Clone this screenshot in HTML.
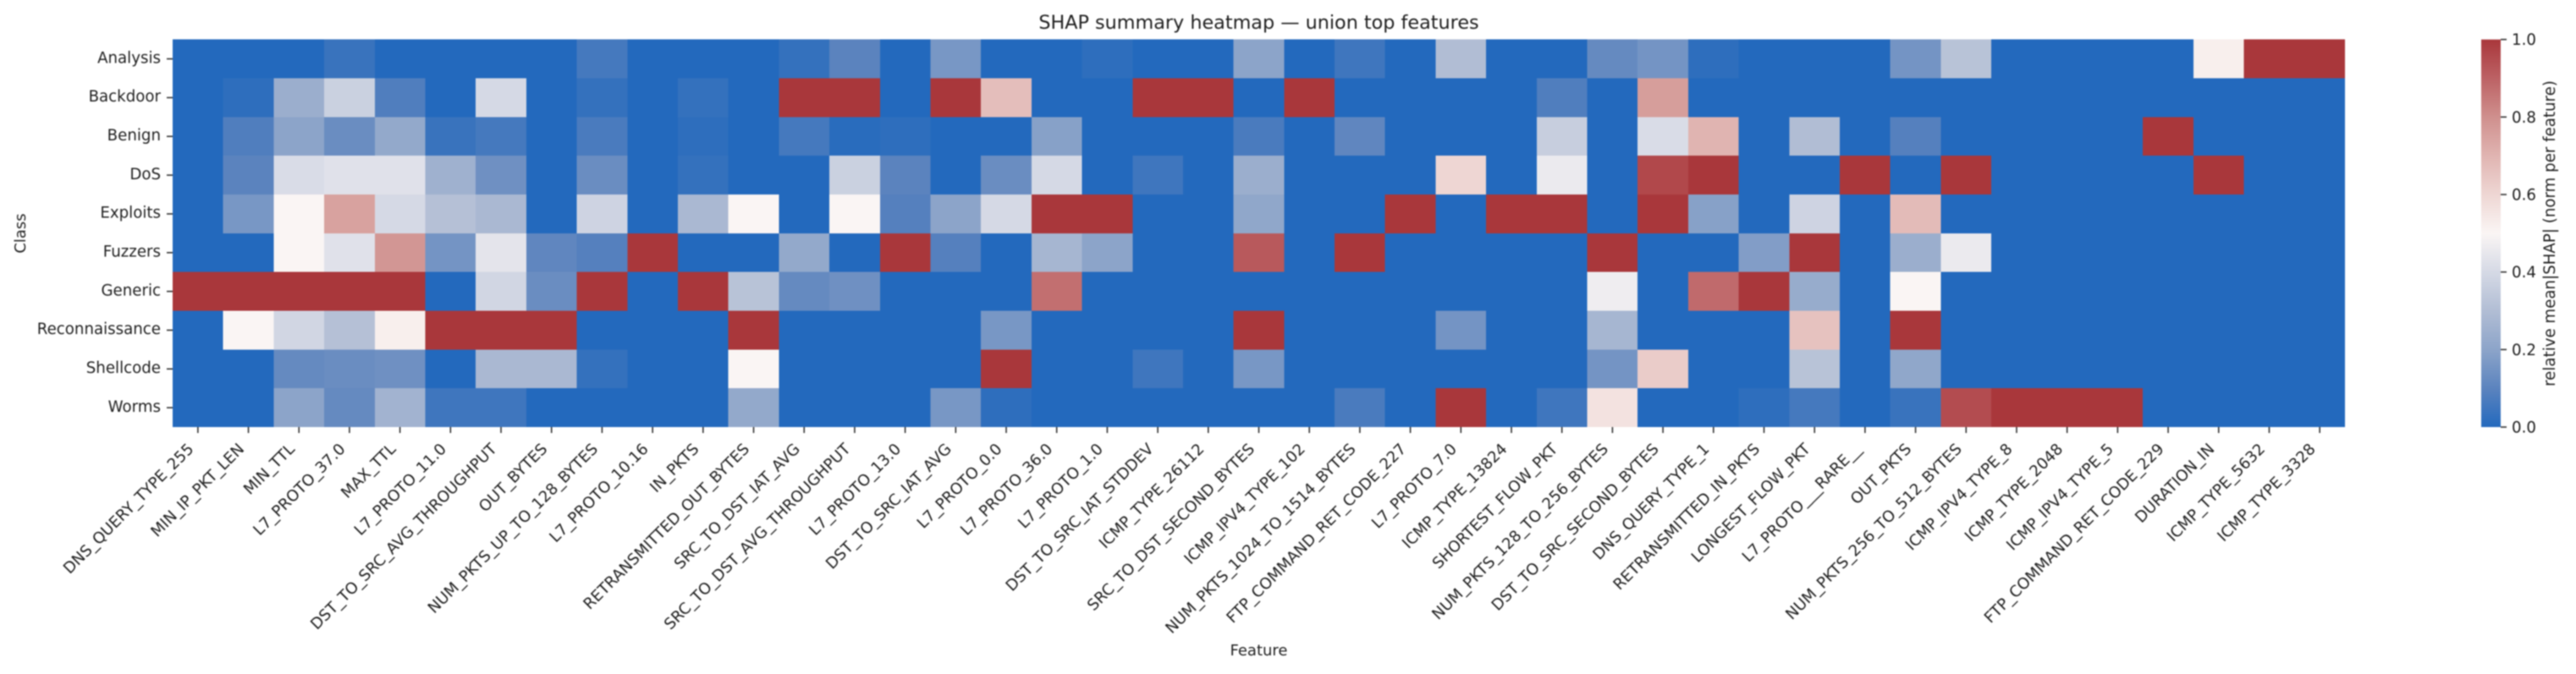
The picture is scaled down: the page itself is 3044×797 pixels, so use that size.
<!DOCTYPE html>
<html lang="en">
<head>
<meta charset="utf-8">
<title>SHAP summary heatmap</title>
<style>
html,body{margin:0;padding:0;background:#fff;width:3044px;height:797px;overflow:hidden}
svg{display:block;filter:blur(0.9px)}
text{font-family:"DejaVu Sans","Liberation Sans",sans-serif;fill:#1f1f1f}
</style>
</head>
<body>
<svg id="chart" xmlns="http://www.w3.org/2000/svg" width="3044" height="797" viewBox="0 0 3044 797">
  <rect x="0" y="0" width="3044" height="797" fill="#ffffff"/>
  <text x="1487.5" y="34" font-size="22.3" text-anchor="middle">SHAP summary heatmap — union top features</text>
  <text x="0" y="0" font-size="18" text-anchor="middle" transform="translate(30,276) rotate(-90)">Class</text>
  <text x="1487.5" y="775" font-size="18" text-anchor="middle">Feature</text>
  <text x="0" y="0" font-size="18.2" text-anchor="middle" transform="translate(3019,276) rotate(-90)">relative mean|SHAP| (norm per feature)</text>
  <g id="cells"></g>
  <g id="y-axis"></g>
  <g id="x-axis"></g>
  <g id="colorbar"></g>
</svg>
<script>
const classes = ["Analysis","Backdoor","Benign","DoS","Exploits","Fuzzers","Generic","Reconnaissance","Shellcode","Worms"];
const features = ["DNS_QUERY_TYPE_255","MIN_IP_PKT_LEN","MIN_TTL","L7_PROTO_37.0","MAX_TTL","L7_PROTO_11.0","DST_TO_SRC_AVG_THROUGHPUT","OUT_BYTES","NUM_PKTS_UP_TO_128_BYTES","L7_PROTO_10.16","IN_PKTS","RETRANSMITTED_OUT_BYTES","SRC_TO_DST_IAT_AVG","SRC_TO_DST_AVG_THROUGHPUT","L7_PROTO_13.0","DST_TO_SRC_IAT_AVG","L7_PROTO_0.0","L7_PROTO_36.0","L7_PROTO_1.0","DST_TO_SRC_IAT_STDDEV","ICMP_TYPE_26112","SRC_TO_DST_SECOND_BYTES","ICMP_IPV4_TYPE_102","NUM_PKTS_1024_TO_1514_BYTES","FTP_COMMAND_RET_CODE_227","L7_PROTO_7.0","ICMP_TYPE_13824","SHORTEST_FLOW_PKT","NUM_PKTS_128_TO_256_BYTES","DST_TO_SRC_SECOND_BYTES","DNS_QUERY_TYPE_1","RETRANSMITTED_IN_PKTS","LONGEST_FLOW_PKT","L7_PROTO___RARE__","OUT_PKTS","NUM_PKTS_256_TO_512_BYTES","ICMP_IPV4_TYPE_8","ICMP_TYPE_2048","ICMP_IPV4_TYPE_5","FTP_COMMAND_RET_CODE_229","DURATION_IN","ICMP_TYPE_5632","ICMP_TYPE_3328"];
const analysisValues =  [0,0,0,.04,0,0,0,0,.06,0, 0,0,.03,.1,0,.16,0,0,.02,0, 0,.2,0,.05,0,.3,0,0,.12,.15, .02,0,0,0,.15,.32,0,0,0,0, .52,1,1];
const backdoorValues =  [0,.02,.24,.37,.08,0,.4,0,.03,0, .03,0,1,1,0,1,.67,0,0,1, 1,0,1,0,0,0,0,.08,0,.76, 0,0,0,0,0,0,0,0,0,0, 0,0,0];
const benignValues =    [0,.08,.2,.13,.22,.04,.06,0,.07,0, .02,0,.06,.01,.02,0,0,.19,0,0, 0,.07,0,.11,0,0,0,.36,0,.41, .7,0,.3,0,.09,0,0,0,0,1, 0,0,0];
const dosValues =       [0,.1,.41,.43,.43,.25,.14,0,.13,0, .03,0,0,.37,.1,0,.13,.4,0,.05, 0,.24,0,0,0,.6,0,.46,0,.96, 1,0,0,1,0,1,0,0,0,0, 1,0,0];
const exploitsValues =  [0,.16,.5,.75,.4,.31,.28,0,.38,0, .28,.5,0,.5,.09,.2,.4,1,1,0, 0,.21,0,0,1,0,1,1,0,1, .19,0,.38,0,.68,0,0,0,0,0, 0,0,0];
const fuzzersValues =   [0,0,.5,.43,.78,.15,.44,.11,.09,1, 0,0,.22,0,1,.09,0,.27,.2,0, 0,.92,0,1,0,0,0,0,1,0, 0,.18,1,0,.24,.46,0,0,0,0, 0,0,0];
const genericValues =   [1,1,1,1,1,0,.39,.13,1,0, 1,.32,.12,.14,0,0,0,.87,0,0, 0,0,0,0,0,0,0,0,.47,0, .88,1,.23,0,.5,0,0,0,0,0, 0,0,0];
const reconValues =     [0,.5,.39,.31,.52,1,1,1,0,0, 0,1,0,0,0,0,.16,0,0,0, 0,1,0,0,0,.15,0,0,.27,0, 0,0,.66,0,1,0,0,0,0,0, 0,0,0];
const shellcodeValues = [0,0,.12,.13,.14,0,.28,.28,.03,0, 0,.5,0,0,0,0,1,0,0,.05, 0,.16,0,0,0,0,0,0,.15,.63, 0,0,.32,0,.21,0,0,0,0,0, 0,0,0];
const wormsValues =     [0,0,.2,.12,.26,.05,.05,0,0,0, 0,.22,0,0,0,.16,.02,0,0,0, 0,0,0,.07,0,1,0,.05,.56,0, 0,.02,.06,0,.04,.95,1,1,1,0, 0,0,0];
const colorbarTicks = [0,0.2,0.4,0.6,0.8,1.0];
const colorbarTickLabels = ["0.0","0.2","0.4","0.6","0.8","1.0"];

const rows = [analysisValues,backdoorValues,benignValues,dosValues,exploitsValues,fuzzersValues,genericValues,reconValues,shellcodeValues,wormsValues];
const NS = "http://www.w3.org/2000/svg";
const plot = {left:204, right:2771, top:46.7, bottom:505};
const bar = {left:2932, right:2955, top:46.7, bottom:505};
const palette = ["#2369bd","#5b83be","#8ca4c9","#b1bdd4","#d5d9e5","#faf5f4","#eed6d3","#e0b4b1","#cf8f8d","#bc6164","#a9373b"];
const ink = "#333333";

function xScale(i){ return plot.left + i * (plot.right - plot.left) / features.length; }
function yScale(i){ return plot.top + i * (plot.bottom - plot.top) / classes.length; }
function barScale(v){ return bar.bottom - v * (bar.bottom - bar.top); }
function hex(c){ return [1,3,5].map(function(p){ return parseInt(c.substr(p,2),16); }); }
function color(v){
  const t = Math.max(0, Math.min(1, v)) * (palette.length - 1);
  const i = Math.min(palette.length - 2, Math.floor(t));
  const a = hex(palette[i]), b = hex(palette[i+1]), f = t - i;
  return "rgb(" + a.map(function(x,k){ return Math.round(x + (b[k]-x)*f); }).join(",") + ")";
}
function make(tag, attrs, parent){
  const el = document.createElementNS(NS, tag);
  Object.keys(attrs).forEach(function(k){ el.setAttribute(k, attrs[k]); });
  parent.appendChild(el);
  return el;
}

const cellsGroup = document.getElementById("cells");
rows.forEach(function(row, r){
  row.forEach(function(v, c){
    const el = make("rect", {x:xScale(c), y:yScale(r), width:xScale(c+1)-xScale(c), height:yScale(r+1)-yScale(r), fill:color(v), "shape-rendering":"crispEdges"}, cellsGroup);
    
    
  });
});

const yAxis = document.getElementById("y-axis");
classes.forEach(function(name, i){
  const cy = (yScale(i) + yScale(i+1)) / 2;
  const tick = make("line", {x1:plot.left-7, x2:plot.left, y1:cy, y2:cy, stroke:ink, "stroke-width":1.6}, yAxis);
  
  
  const label = make("text", {x:190, y:cy+4.8, "font-size":18.2, "text-anchor":"end"}, yAxis);
  label.textContent = name;
  
  
});

const xAxis = document.getElementById("x-axis");
features.forEach(function(name, i){
  const cx = (xScale(i) + xScale(i+1)) / 2;
  const tick = make("line", {x1:cx, x2:cx, y1:plot.bottom, y2:plot.bottom+7, stroke:ink, "stroke-width":1.6}, xAxis);
  
  
  const label = make("text", {x:0, y:0, "font-size":18.3, "text-anchor":"end", transform:"translate(" + (cx-4) + ",532) rotate(-45)"}, xAxis);
  label.textContent = name;
  
  
});

const cb = document.getElementById("colorbar");
const defs = make("defs", {}, cb);
const grad = make("linearGradient", {id:"cbGrad", x1:0, y1:1, x2:0, y2:0}, defs);
palette.forEach(function(c, i){
  make("stop", {offset:i/(palette.length-1), "stop-color":c}, grad);
});
const barRect = make("rect", {x:bar.left, y:bar.top, width:bar.right-bar.left, height:bar.bottom-bar.top, fill:"url(#cbGrad)"}, cb);


colorbarTicks.forEach(function(v, i){
  const y = barScale(v);
  const tick = make("line", {x1:bar.right, x2:bar.right+7, y1:y, y2:y, stroke:ink, "stroke-width":1.6}, cb);
  
  
  const label = make("text", {x:2968, y:y+6.5, "font-size":18.2}, cb);
  label.textContent = colorbarTickLabels[i];
  
  
});
</script>
</body>
</html>
